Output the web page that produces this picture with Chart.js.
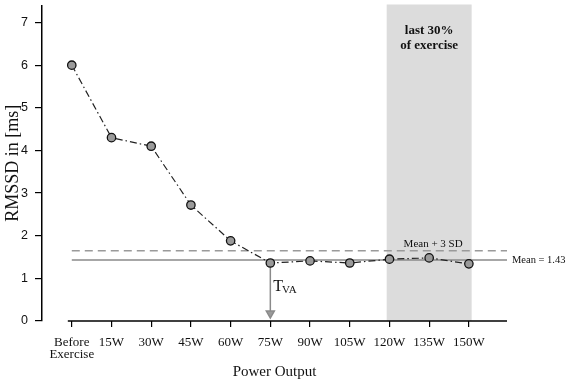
<!DOCTYPE html>
<html>
<head>
<meta charset="utf-8">
<script src="https://cdn.jsdelivr.net/npm/chart.js@4.4.1/dist/chart.umd.min.js"></script>
<style>
  html, body { margin: 0; padding: 0; background: #fff; }
  #wrap { width: 567px; height: 382px; }
</style>
</head>
<body>
<div id="wrap"><canvas id="rmssdChart"></canvas></div>
<script>
// power output steps
const categories = [
  ["Before", "Exercise"], "15W", "30W", "45W", "60W", "75W",
  "90W", "105W", "120W", "135W", "150W"
];
// RMSSD per step (ms)
const rmssd = [6.0, 4.3, 4.1, 2.72, 1.88, 1.36, 1.41, 1.36, 1.45, 1.48, 1.34];
const yTicks = [0, 1, 2, 3, 4, 5, 6, 7];

const meanValue = 1.43;
const meanPlus3SD = 1.65;
const thresholdIdx = 5; // T_VA at 75W
const lastPartFrom = 8;  // 120W
const lastPartTo = 10;   // 150W

const serif = '"Liberation Serif", "DejaVu Serif", serif';
const sans = '"Liberation Sans", Arial, sans-serif';

const X_MIN = -0.75;
const X_MAX = 10.96;

const points = rmssd.map((v, i) => ({ x: i, y: v }));

const extras = {
  id: "extras",
  beforeDatasetsDraw(chart) {
    const { ctx, chartArea, scales } = chart;
    const xs = scales.x, ys = scales.y;
    ctx.save();
    // shaded last 30 %
    const x1 = xs.getPixelForValue(lastPartFrom - 0.07);
    const x2 = xs.getPixelForValue(lastPartTo + 0.07);
    ctx.fillStyle = "#dcdcdc";
    ctx.fillRect(x1, chartArea.top - 1, x2 - x1, chartArea.bottom - chartArea.top + 1);

    // x axis line (starts near first category)
    ctx.strokeStyle = "#000";
    ctx.lineWidth = 1.5;
    ctx.beginPath();
    ctx.moveTo(xs.getPixelForValue(-0.1), chartArea.bottom);
    ctx.lineTo(chartArea.right, chartArea.bottom);
    ctx.stroke();

    // arrow down from threshold point
    const ax = xs.getPixelForValue(thresholdIdx);
    const ay = ys.getPixelForValue(rmssd[thresholdIdx]);
    const ab = chartArea.bottom - 3;
    ctx.strokeStyle = "#8a8a8a";
    ctx.lineWidth = 1.5;
    ctx.beginPath();
    ctx.moveTo(ax, ay);
    ctx.lineTo(ax, ab - 6);
    ctx.stroke();
    ctx.fillStyle = "#9a9a9a";
    ctx.beginPath();
    ctx.moveTo(ax - 4, ab - 7);
    ctx.lineTo(ax + 4, ab - 7);
    ctx.lineTo(ax, ab);
    ctx.closePath();
    ctx.fill();
    ctx.stroke();
    ctx.restore();
  },
  afterDraw(chart) {
    const { ctx, chartArea, scales } = chart;
    const xs = scales.x, ys = scales.y;
    ctx.save();
    ctx.fillStyle = "#111";
    ctx.textAlign = "center";
    ctx.textBaseline = "middle";
    const cx = xs.getPixelForValue((lastPartFrom + lastPartTo) / 2);
    ctx.font = "bold 13px " + serif;
    ctx.fillText("last 30%", cx, 31);
    ctx.fillText("of exercise", cx, 46);

    ctx.font = "11px " + serif;
    ctx.fillText("Mean + 3 SD", xs.getPixelForValue(9.1), ys.getPixelForValue(meanPlus3SD) - 7);

    ctx.textAlign = "left";
    ctx.font = "10.5px " + serif;
    ctx.fillText("Mean = " + meanValue, chartArea.right + 5, ys.getPixelForValue(meanValue));

    // T_VA label
    const tx = xs.getPixelForValue(thresholdIdx) + 3;
    const ty = ys.getPixelForValue(rmssd[thresholdIdx]) + 24;
    ctx.font = "16px " + serif;
    ctx.fillText("T", tx, ty);
    const tw = ctx.measureText("T").width;
    ctx.font = "11px " + serif;
    ctx.fillText("VA", tx + tw - 1, ty + 3);
    ctx.restore();
  }
};

new Chart(document.getElementById("rmssdChart"), {
  type: "line",
  data: {
    datasets: [
      {
        data: points,
        borderColor: "#222",
        borderWidth: 1.2,
        borderDash: [7, 3, 1.5, 3],
        pointRadius: 4.2,
        pointBackgroundColor: "#9a9a9a",
        pointBorderColor: "#111",
        pointBorderWidth: 1.3,
        tension: 0
      },
      {
        data: [{ x: 0, y: meanValue }, { x: X_MAX, y: meanValue }],
        borderColor: "#8a8a8a",
        borderWidth: 1.5,
        pointRadius: 0
      },
      {
        data: [{ x: 0, y: meanPlus3SD }, { x: X_MAX, y: meanPlus3SD }],
        borderColor: "#9a9a9a",
        borderWidth: 1.5,
        borderDash: [8, 5],
        pointRadius: 0
      }
    ]
  },
  options: {
    responsive: true,
    maintainAspectRatio: false,
    animation: false,
    events: [],
    layout: { padding: { top: 3, right: 60, bottom: 0, left: 0 } },
    plugins: { legend: { display: false }, tooltip: { enabled: false } },
    scales: {
      x: {
        type: "linear",
        min: X_MIN,
        max: X_MAX,
        afterFit: (s) => {
          s.height = 61;
          s.paddingLeft = 0;
          s.paddingRight = 0;
        },
        afterBuildTicks: (s) => {
          s.ticks = categories.map((c, i) => ({ value: i }));
        },
        border: { display: false },
        grid: { drawOnChartArea: false, color: "#000", lineWidth: 1.2, tickLength: 6 },
        ticks: {
          autoSkip: false,
          maxRotation: 0,
          padding: 9,
          color: "#111",
          font: { family: serif, size: 13, lineHeight: 0.95 },
          callback: (v) => categories[v]
        },
        title: {
          display: true,
          text: "Power Output",
          color: "#111",
          font: { family: serif, size: 15 },
          padding: { top: 0, bottom: 1 }
        }
      },
      y: {
        min: 0,
        max: 7.4,
        afterFit: (s) => {
          s.width = 42;
          s.paddingTop = 0;
          s.paddingBottom = 0;
        },
        afterBuildTicks: (s) => {
          s.ticks = yTicks.map((v) => ({ value: v }));
        },
        border: { display: true, color: "#000", width: 1.5 },
        grid: { drawOnChartArea: false, color: "#000", lineWidth: 1.2, tickLength: 7 },
        ticks: {
          padding: 7,
          color: "#111",
          font: { family: sans, size: 12.5 }
        },
        title: {
          display: true,
          text: "RMSSD in [ms]",
          color: "#111",
          font: { family: serif, size: 18 },
          padding: { top: 2, bottom: 0 }
        }
      }
    }
  },
  plugins: [extras]
});
</script>
</body>
</html>
